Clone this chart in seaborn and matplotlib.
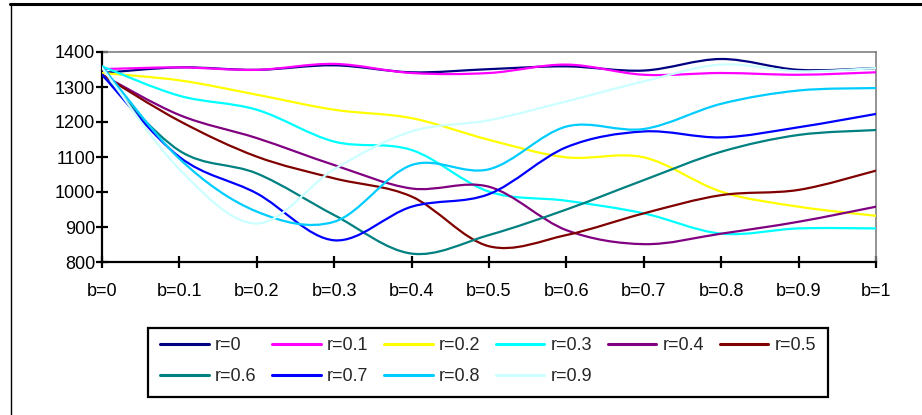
import numpy as np
import pandas as pd
import seaborn as sns
import matplotlib
matplotlib.use("Agg")
import matplotlib.pyplot as plt
from matplotlib.path import Path
from matplotlib.patches import PathPatch, Rectangle
from matplotlib.lines import Line2D

# Categories along the x axis
b_labels = ["b=0", "b=0.1", "b=0.2", "b=0.3", "b=0.4", "b=0.5",
            "b=0.6", "b=0.7", "b=0.8", "b=0.9", "b=1"]
series_names = ["r=0", "r=0.1", "r=0.2", "r=0.3", "r=0.4",
                "r=0.5", "r=0.6", "r=0.7", "r=0.8", "r=0.9"]

# One list of values per series
r00 = [1340, 1356, 1349, 1362, 1342, 1351, 1359, 1347, 1380, 1349, 1354]
r01 = [1351, 1356, 1349, 1366, 1340, 1340, 1364, 1335, 1340, 1335, 1342]
r02 = [1340, 1319, 1278, 1235, 1211, 1149, 1099, 1099, 1001, 958, 932]
r03 = [1359, 1275, 1235, 1144, 1120, 1001, 975, 939, 881, 896, 896]
r04 = [1335, 1220, 1154, 1077, 1010, 1015, 891, 851, 881, 915, 958]
r05 = [1335, 1203, 1101, 1039, 987, 845, 877, 939, 991, 1006, 1061]
r06 = [1335, 1118, 1053, 934, 824, 877, 950, 1034, 1115, 1163, 1177]
r07 = [1335, 1100, 996, 862, 958, 994, 1128, 1173, 1156, 1185, 1223]
r08 = [1359, 1095, 944, 915, 1077, 1065, 1187, 1180, 1252, 1290, 1297]
r09 = [1355, 1065, 910, 1065, 1173, 1205, 1259, 1316, 1364, 1345, 1354]

y_ticks = [800, 900, 1000, 1100, 1200, 1300, 1400]

colors = ["#000080", "#FF00FF", "#FFFF00", "#00FFFF", "#800080",
          "#800000", "#008080", "#0000FF", "#00CCFF", "#CCFFFF"]

series = [r00, r01, r02, r03, r04, r05, r06, r07, r08, r09]
df = pd.DataFrame({name: vals for name, vals in zip(series_names, series)})
df.index = np.arange(len(b_labels))

sns.set_theme(style="white")
plt.rcParams["font.family"] = ["Liberation Sans", "DejaVu Sans"]
palette = sns.color_palette(colors)

W, H = 922, 415
fig = plt.figure(figsize=(W / 100, H / 100), dpi=100)
ax = fig.add_axes([102 / W, 1 - 262 / H, (876 - 102) / W, (262 - 52) / H])


def smooth_path(xs, ys):
    """Bezier path through the points with Catmull-Rom style tangents."""
    pts = np.column_stack([xs, ys]).astype(float)
    n = len(pts)
    verts = [pts[0]]
    codes = [Path.MOVETO]
    for i in range(n - 1):
        p0 = pts[max(i - 1, 0)]
        p1 = pts[i]
        p2 = pts[i + 1]
        p3 = pts[min(i + 2, n - 1)]
        c1 = p1 + (p2 - p0) / 6.0
        c2 = p2 - (p3 - p1) / 6.0
        verts += [c1, c2, p2]
        codes += [Path.CURVE4] * 3
    return Path(verts, codes)


for name, col in zip(series_names, palette):
    p = smooth_path(df.index.values, df[name].values)
    ax.add_patch(PathPatch(p, facecolor="none", edgecolor=col, lw=1.6,
                           capstyle="round", joinstyle="round", zorder=3))

ax.set_xlim(0, len(b_labels) - 1)
ax.set_ylim(800, 1400)
ax.set_xticks(df.index.values)
ax.set_xticklabels(b_labels)
ax.set_yticks(y_ticks)
ax.set_yticklabels([str(v) for v in y_ticks])

for side in ["left", "bottom"]:
    ax.spines[side].set_color("black")
    ax.spines[side].set_linewidth(1.6)
for side in ["top", "right"]:
    ax.spines[side].set_color("#808080")
    ax.spines[side].set_linewidth(1.2)
    ax.spines[side].set_zorder(2)

ax.tick_params(axis="both", which="major", direction="inout", length=8,
               width=1.6, color="black", labelsize=13, labelcolor="black",
               left=True, bottom=True)
ax.tick_params(axis="y", pad=1)
ax.tick_params(axis="x", pad=11)
ax.grid(False)

# Outer chart frame (top and left edges)
fig.add_artist(Line2D([10 / W, 1.0], [1 - 4.5 / H, 1 - 4.5 / H],
                      transform=fig.transFigure, color="black", lw=2.2))
fig.add_artist(Line2D([10.5 / W, 10.5 / W], [1 - 4.5 / H, 0.0],
                      transform=fig.transFigure, color="black", lw=1.0))

# Legend box
fig.add_artist(Rectangle((148 / W, 1 - 397 / H), (828 - 148) / W,
                         (397 - 328) / H, transform=fig.transFigure,
                         facecolor="none", edgecolor="black", lw=1.6))

# Row-major legend: 6 entries in the first row, 4 in the second
ncol = 6
order = []
for c in range(ncol):
    for r in range(2):
        k = r * ncol + c
        if k < len(series_names):
            order.append(k)
handles = [Line2D([], [], color=palette[k], lw=2.2) for k in order]
labels = [series_names[k] for k in order]
fig.legend(handles, labels, loc="center",
           bbox_to_anchor=(488 / W, 1 - 361 / H), ncol=ncol, frameon=False,
           fontsize=13, handlelength=2.7, handletextpad=0.35,
           columnspacing=0.85, labelspacing=0.78, borderpad=0.3)

fig.savefig("out.png", dpi=100, facecolor="white")
